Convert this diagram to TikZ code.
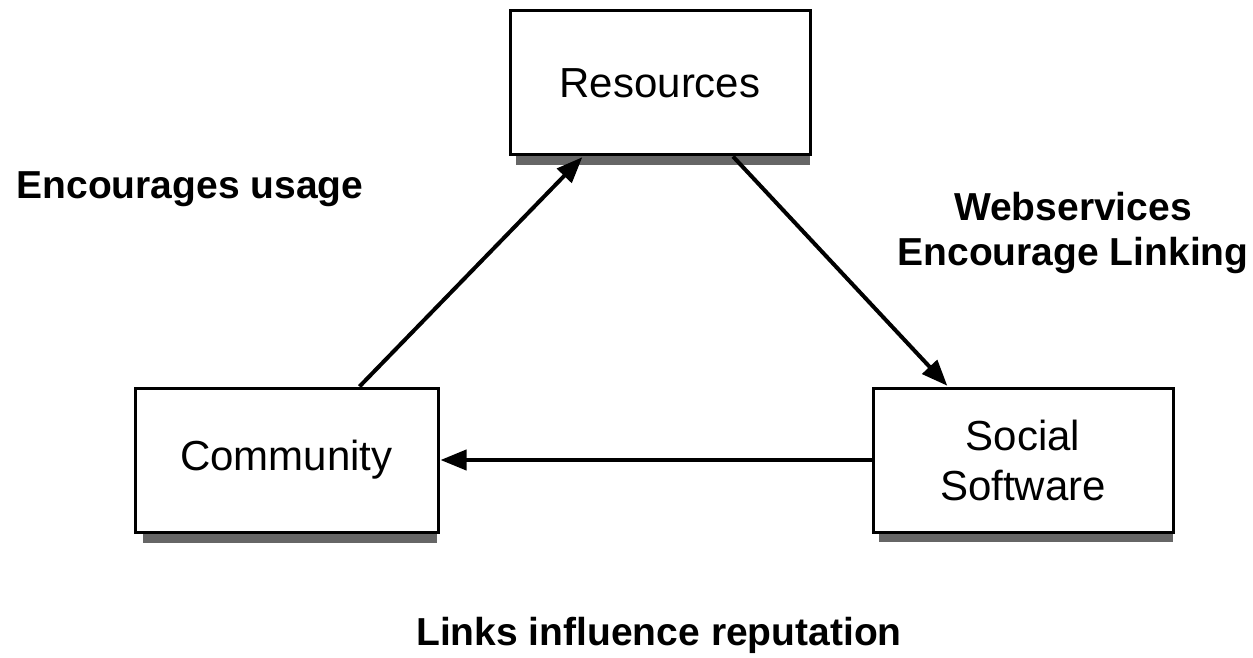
\documentclass[tikz,border=0pt]{standalone}
\usepackage{fontspec}
\setmainfont{Liberation Sans}
\usetikzlibrary{arrows.meta,calc}
\begin{document}
\begin{tikzpicture}[x=1pt,y=-1pt,
  box/.style={draw=black, line width=3pt, fill=white, minimum width=300pt,
    minimum height=144pt, inner sep=0pt, align=center, font=\fontsize{42}{48}\selectfont},
  shadowbox/.style={fill=black!60, draw=none, minimum width=294pt, minimum height=144pt, inner sep=0pt},
  label/.style={font=\bfseries\fontsize{39}{47}\selectfont, align=center, inner sep=0pt},
  link/.style={line width=4pt, -{Triangle[length=26pt,width=20pt]}, shorten >=1pt}]
  \useasboundingbox (0,0) rectangle (1253,658);

  % soft drop shadows behind the boxes
  \node[shadowbox] at (663,93) {};
  \node[shadowbox] at (290,471) {};
  \node[shadowbox] at (1026,470) {};

  % the three boxes
  \node[box] (res)  at (660,83)    {Resources};
  \node[box, minimum width=303pt] (comm) at (286.5,460) {\raisebox{-4pt}{Community}};
  \node[box] (soc)  at (1023,460)  {Social\\[2pt]Software};

  % connectors
  \draw[link] ([xshift=73pt]comm.north) -- ([xshift=-77pt]res.south);
  \draw[link] ([xshift=73pt]res.south) -- ([xshift=-75pt]soc.north);
  \draw[link] (soc.west) -- (comm.east);

  % edge labels
  \node[label] (l1) at (190,189) {Encourages usage};
  \node[label] (l2) at (1073,233) {Webservices\\[-2pt]Encourage Linking};
  \node[label] (l3) at (659,635) {Links influence reputation};
\end{tikzpicture}
\end{document}
